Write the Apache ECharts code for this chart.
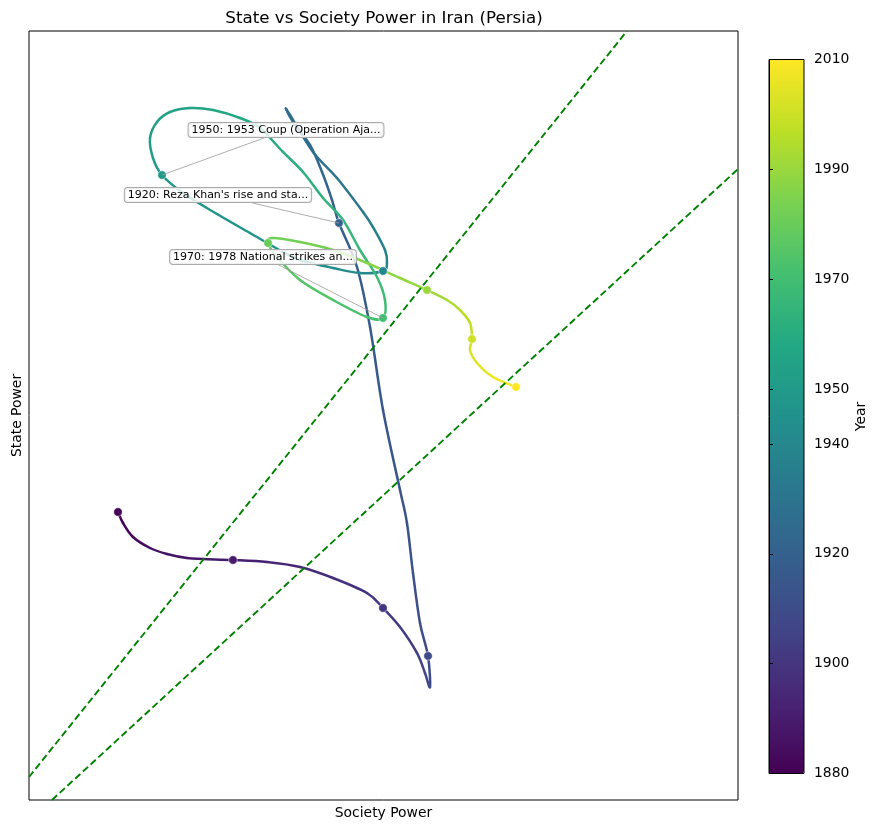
<!DOCTYPE html>
<html>
<head>
<meta charset="utf-8">
<script src="https://cdn.jsdelivr.net/npm/echarts@6/dist/echarts.min.js"></script>
<style>
  html, body { margin: 0; padding: 0; background: #fff; }
  #chart { width: 879px; height: 831px; }
</style>
</head>
<body>
<div id="chart"></div>
<script>
// trajectory (society, state, year)
const curveYear = [1880, 1881.5, 1883, 1885, 1886.5, 1888, 1889, 1890, 1892.5, 1895, 1897, 1899, 1900,
  1902, 1904.5, 1906.5, 1908.5, 1910, 1911, 1912, 1913, 1914, 1915.5, 1917, 1918.5, 1920,
  1921, 1922, 1923, 1924.5, 1925.5, 1926.5, 1928, 1930, 1932.5, 1934.5, 1936.5, 1938.5, 1940,
  1941.5, 1943, 1944.5, 1945.5, 1946.5, 1947.5, 1949, 1950,
  1951, 1952, 1953, 1954, 1955, 1956.5, 1958, 1959, 1960.5, 1962, 1963.5, 1965, 1966.5, 1968, 1969, 1970,
  1971.5, 1973.5, 1975.5, 1977.5, 1980,
  1981, 1982.5, 1984.5, 1986.5, 1988.5, 1990, 1992.5, 1995, 1997.5, 2000, 2002, 2004, 2006.5, 2010];
const curveSociety = [1.255, 1.326, 1.467, 1.707, 1.946, 2.228, 2.454, 2.877, 3.357, 3.822, 4.288, 4.767, 4.993,
  5.233, 5.472, 5.585, 5.656, 5.628, 5.515, 5.416, 5.331, 5.233, 4.993, 4.810, 4.626, 4.372,
  4.274, 4.133, 3.963, 3.724, 3.625, 3.681, 4.006, 4.344, 4.711, 4.852, 5.021, 5.049, 4.993,
  4.668, 4.288, 3.822, 3.582, 3.117, 2.652, 2.172, 1.876,
  1.749, 1.707, 1.805, 1.989, 2.271, 2.595, 2.976, 3.258, 3.582, 3.865, 4.147, 4.429, 4.668, 4.908, 5.021, 4.993,
  4.767, 4.288, 3.822, 3.498, 3.371,
  3.441, 3.822, 4.288, 4.767, 5.233, 5.614, 5.896, 6.079, 6.220, 6.248, 6.220, 6.319, 6.544, 6.869];
const curveState = [3.745, 3.602, 3.420, 3.277, 3.199, 3.147, 3.134, 3.121, 3.095, 3.030, 2.887, 2.692, 2.497,
  2.250, 1.912, 1.651, 1.469, 1.873, 2.302, 2.952, 3.602, 4.031, 5.072, 6.151, 6.931, 7.503,
  7.802, 8.166, 8.518, 8.817, 8.986, 8.908, 8.427, 8.088, 7.646, 7.451, 7.152, 6.983, 6.879,
  6.853, 6.918, 7.022, 7.126, 7.373, 7.620, 7.893, 8.127,
  8.348, 8.609, 8.817, 8.947, 8.999, 8.973, 8.869, 8.739, 8.427, 8.166, 7.828, 7.542, 7.152, 6.801, 6.502, 6.268,
  6.281, 6.502, 6.762, 7.061, 7.243,
  7.308, 7.256, 7.152, 6.983, 6.788, 6.632, 6.502, 6.372, 6.203, 5.995, 5.852, 5.683, 5.501, 5.371];

// decade markers
const markerYear = [1880, 1890, 1900, 1910, 1920, 1940, 1950, 1970, 1980, 1990, 2000, 2010];
const markerSociety = [1.255, 2.877, 4.993, 5.628, 4.372, 4.993, 1.876, 4.993, 3.371, 5.614, 6.248, 6.869];
const markerState = [3.745, 3.121, 2.497, 1.873, 7.503, 6.879, 8.127, 6.268, 7.243, 6.632, 5.995, 5.371];

// annotated events
const eventYear = [1950, 1920, 1970];
const eventText = ['1950: 1953 Coup (Operation Aja...', "1920: Reza Khan's rise and sta...", '1970: 1978 National strikes an...'];

// the two dashed corridor boundaries
const upperBound = [[0, 0.299], [8.434, 10]];
const lowerBound = [[0.324, 0], [10, 8.205]];

const yearTicks = [1880, 1900, 1920, 1940, 1950, 1970, 1990, 2010];
const viridis = ['#440154', '#482475', '#414487', '#355f8d', '#2a788e', '#21918c',
  '#22a884', '#44bf70', '#7ad151', '#bddf26', '#fde725'];

const font = 'DejaVu Sans';

// segments [x1, y1, year, x2, y2, xPrev, yPrev, xNext, yNext]
const segments = [];
const n = curveYear.length;
for (let i = 0; i < n - 1; i++) {
  const a = Math.max(i - 1, 0), d = Math.min(i + 2, n - 1);
  segments.push([curveSociety[i], curveState[i], (curveYear[i] + curveYear[i + 1]) / 2,
    curveSociety[i + 1], curveState[i + 1],
    curveSociety[a], curveState[a], curveSociety[d], curveState[d]]);
}
const markers = markerYear.map((y, i) => [markerSociety[i], markerState[i], y]);
const events = eventYear.map(y => markers[markerYear.indexOf(y)]);
const eventShift = [[124, -45], [-121, -28], [-120, -61]];

const measure = document.createElement('canvas').getContext('2d');
measure.font = '11px "DejaVu Sans"';

const chart = echarts.init(document.getElementById('chart'));
chart.setOption({
  animation: false,
  textStyle: { fontFamily: font },
  title: {
    text: 'State vs Society Power in Iran (Persia)',
    left: 379, top: 5, textAlign: 'center',
    textStyle: { fontFamily: font, fontSize: 16.7, fontWeight: 'normal', color: '#000' }
  },
  grid: [
    { left: 29, right: 141, top: 31, bottom: 31, show: true, borderColor: '#000', borderWidth: 1 },
    { left: 769, top: 59.5, width: 35, height: 714, show: true, borderColor: '#000', borderWidth: 1, z: 10 }
  ],
  xAxis: [
    { type: 'value', min: 0, max: 10, name: 'Society Power', nameLocation: 'middle', nameGap: 6,
      nameTextStyle: { fontFamily: font, fontSize: 13.9, color: '#000' },
      axisLine: { show: false }, axisTick: { show: false }, axisLabel: { show: false }, splitLine: { show: false } },
    { type: 'value', gridIndex: 1, min: 0, max: 1, show: false }
  ],
  yAxis: [
    { type: 'value', min: 0, max: 10, name: 'State Power', nameLocation: 'middle', nameGap: 5,
      nameTextStyle: { fontFamily: font, fontSize: 13.9, color: '#000' },
      axisLine: { show: false }, axisTick: { show: false }, axisLabel: { show: false }, splitLine: { show: false } },
    { type: 'value', gridIndex: 1, position: 'right', min: 1880, max: 2010, z: 12,
      name: 'Year', nameLocation: 'middle', nameGap: 50, nameRotate: 90,
      nameTextStyle: { fontFamily: font, fontSize: 13.9, color: '#000' },
      axisLine: { show: true, lineStyle: { color: '#000', width: 1 } }, splitLine: { show: false },
      axisTick: { show: true, length: 4, customValues: yearTicks, lineStyle: { color: '#000', width: 1 } },
      axisLabel: { show: true, margin: 10, customValues: yearTicks, formatter: v => String(v),
        fontFamily: font, fontSize: 13.9, color: '#000' } }
  ],
  visualMap: {
    type: 'continuous', min: 1880, max: 2010, dimension: 2, seriesIndex: [0, 3],
    left: 769, top: 59.5, itemWidth: 35, itemHeight: 714, padding: 0,
    calculable: false, hoverLink: false, text: null,
    inRange: { color: viridis }
  },
  series: [
    {
      // year-coloured trajectory, one smooth piece per segment
      type: 'custom',
      data: segments,
      encode: { x: [0, 3], y: [1, 4] },
      renderItem: (params, api) => {
        const p1 = api.coord([api.value(0), api.value(1)]);
        const p2 = api.coord([api.value(3), api.value(4)]);
        const p0 = api.coord([api.value(5), api.value(6)]);
        const p3 = api.coord([api.value(7), api.value(8)]);
        return {
          type: 'bezierCurve',
          shape: {
            x1: p1[0], y1: p1[1], x2: p2[0], y2: p2[1],
            cpx1: p1[0] + (p2[0] - p0[0]) / 6, cpy1: p1[1] + (p2[1] - p0[1]) / 6,
            cpx2: p2[0] - (p3[0] - p1[0]) / 6, cpy2: p2[1] - (p3[1] - p1[1]) / 6
          },
          style: { stroke: api.visual('color'), fill: null, lineWidth: 2.5, lineCap: 'round' }
        };
      }
    },
    {
      type: 'line', data: upperBound, symbol: 'none',
      lineStyle: { color: '#008000', width: 1.9, type: [7, 3.5] }
    },
    {
      type: 'line', data: lowerBound, symbol: 'none',
      lineStyle: { color: '#008000', width: 1.9, type: [7, 3.5] }
    },
    {
      type: 'scatter', data: markers, symbolSize: 8.5, z: 3,
      itemStyle: { opacity: 1, borderColor: '#fff', borderWidth: 0.5 }
    },
    {
      // event annotations: leader line from box edge to the point, then the box
      type: 'custom', data: events, z: 6,
      renderItem: (params, api) => {
        const p = api.coord([api.value(0), api.value(1)]);
        const s = eventShift[params.dataIndex];
        const text = eventText[params.dataIndex];
        const cx = p[0] + s[0], cy = p[1] + s[1];
        const hw = measure.measureText(text).width / 2 + 3, hh = 8;
        const t = Math.min(hw / Math.abs(s[0]), hh / Math.abs(s[1]));
        return {
          type: 'group',
          children: [
            {
              type: 'line',
              shape: { x1: cx - s[0] * t, y1: cy - s[1] * t, x2: p[0], y2: p[1] },
              style: { stroke: '#999', lineWidth: 0.8 }
            },
            {
              type: 'text', x: cx, y: cy,
              style: {
                text: text, fontFamily: font, fontSize: 11, fill: '#000',
                align: 'center', verticalAlign: 'middle',
                backgroundColor: 'rgba(255,255,255,0.8)', borderColor: '#aaa', borderWidth: 1,
                borderRadius: 3, padding: [2, 3, 1, 3]
              }
            }
          ]
        };
      }
    }
  ]
});
</script>
</body>
</html>
